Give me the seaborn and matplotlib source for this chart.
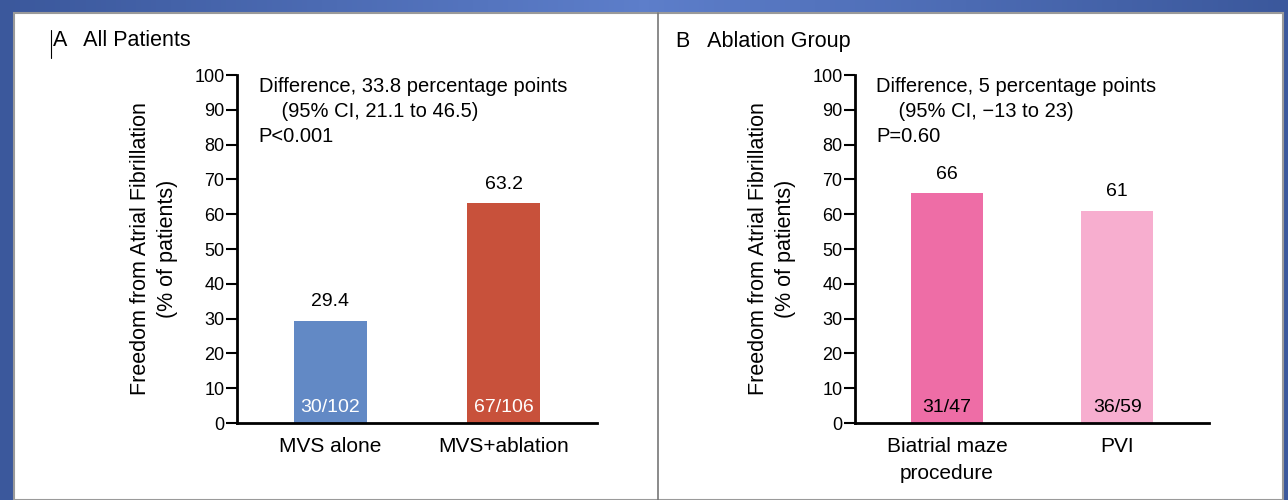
#!/usr/bin/env python3
import numpy as np
import pandas as pd
import matplotlib
matplotlib.use("Agg")
import matplotlib.pyplot as plt
from matplotlib.patches import Rectangle
from matplotlib.lines import Line2D
import seaborn as sns

# data
groups_a = ["MVS alone", "MVS+ablation"]
values_a = [29.4, 63.2]
counts_a = ["30/102", "67/106"]
colors_a = ["#6289C5", "#C8513B"]

groups_b = ["Biatrial maze\nprocedure", "PVI"]
values_b = [66, 61]
counts_b = ["31/47", "36/59"]
colors_b = ["#EE6DA6", "#F7AECF"]

stats_a = "Difference, 33.8 percentage points\n    (95% CI, 21.1 to 46.5)\nP<0.001"
stats_b = "Difference, 5 percentage points\n    (95% CI, \u221213 to 23)\nP=0.60"

sns.set_theme(style="white")
plt.rcParams["font.family"] = ["Liberation Sans", "DejaVu Sans"]
plt.rcParams.update({"text.color": "black", "axes.labelcolor": "black",
                     "xtick.color": "black", "ytick.color": "black"})

W, H = 1288, 500
fig = plt.figure(figsize=(W / 100, H / 100), dpi=100)

# slide background: blue gradient
bg = fig.add_axes([0, 0, 1, 1], zorder=-10)
grad = np.abs(np.linspace(-1, 1, 256))
cmap = matplotlib.colors.LinearSegmentedColormap.from_list("slide", ["#5D7ECA", "#3B589C"])
bg.imshow(grad[None, :], aspect="auto", cmap=cmap, extent=[0, 1, 0, 1])
bg.add_patch(Rectangle((14 / W, 0), (1283 - 14) / W, (H - 13) / H,
                       facecolor="white", edgecolor="#9a9a9a", lw=1.5))
bg.add_line(Line2D([658 / W, 658 / W], [0, (H - 13) / H], color="#777777", lw=1.2))
bg.set_xlim(0, 1)
bg.set_ylim(0, 1)
bg.axis("off")

fig.text(53 / W, 1 - 41 / H, "A   All Patients", fontsize=15.5, va="center", ha="left")
fig.text(676 / W, 1 - 41 / H, "B   Ablation Group", fontsize=15.5, va="center", ha="left")
bg.add_line(Line2D([51 / W, 51 / W], [1 - 58 / H, 1 - 30 / H], color="black", lw=0.8))


def draw_panel(rect, groups, values, counts, colors, stats, count_color):
    ax = fig.add_axes(rect)
    df = pd.DataFrame({"group": groups, "value": values})
    sns.barplot(data=df, x="group", y="value", hue="group", palette=colors,
                width=0.42, legend=False, ax=ax, saturation=1, edgecolor="none")
    ax.set_ylim(0, 100)
    ax.set_xlim(-0.54, 1.54)
    ax.set_yticks(range(0, 101, 10))
    ax.set_xlabel("")
    ax.set_ylabel("Freedom from Atrial Fibrillation\n(% of patients)", fontsize=15.5,
                  labelpad=12, linespacing=1.35)
    ax.tick_params(axis="y", direction="out", length=8, width=1.5, left=True,
                   labelsize=13, pad=1)
    ax.tick_params(axis="x", length=0, labelsize=15, pad=10)
    for lbl in ax.get_xticklabels():
        lbl.set_linespacing(1.55)
    sns.despine(ax=ax)
    for s in ["left", "bottom"]:
        ax.spines[s].set_linewidth(2)
        ax.spines[s].set_color("black")
    for bar, v, c in zip(ax.patches, values, counts):
        cx = bar.get_x() + bar.get_width() / 2
        ax.text(cx, v + 3, f"{v:g}", ha="center", va="bottom", fontsize=14)
        ax.text(cx, 2, c, ha="center", va="bottom", fontsize=14, color=count_color)
    ax.text(0.06, 0.995, stats, transform=ax.transAxes, ha="left", va="top",
            fontsize=14.5, linespacing=1.4)
    return ax


draw_panel([237 / W, 77 / H, 360 / W, 348 / H], groups_a, values_a, counts_a,
           colors_a, stats_a, "white")
draw_panel([855 / W, 77 / H, 354 / W, 348 / H], groups_b, values_b, counts_b,
           colors_b, stats_b, "black")

fig.savefig("out.png", dpi=100)
